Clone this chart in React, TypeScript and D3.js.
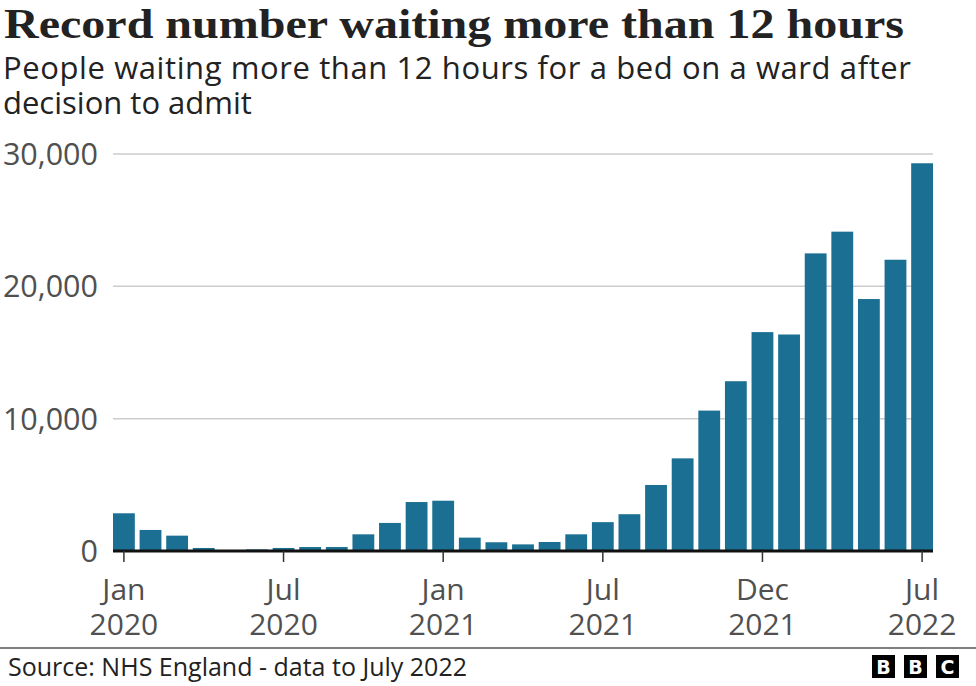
import React from 'react';
import * as d3 from 'd3';

const months = [
  '2020-01', '2020-02', '2020-03', '2020-04', '2020-05', '2020-06',
  '2020-07', '2020-08', '2020-09', '2020-10', '2020-11', '2020-12',
  '2021-01', '2021-02', '2021-03', '2021-04', '2021-05', '2021-06',
  '2021-07', '2021-08', '2021-09', '2021-10', '2021-11', '2021-12',
  '2022-01', '2022-02', '2022-03', '2022-04', '2022-05', '2022-06',
  '2022-07',
];

const waiting = [
  2850, 1590, 1160, 230, 60, 120,
  230, 300, 300, 1260, 2120, 3700,
  3800, 1010, 660, 500, 680, 1260,
  2180, 2780, 4990, 7000, 10610, 12830,
  16540, 16360, 22490, 24130, 19040, 22010,
  29300,
];

// tick positions as placed in the original graphic
const xTickMonths = ['2020-01', '2020-07', '2021-01', '2021-07', '2022-01', '2022-07'];
const xTickLabels = [['Jan', '2020'], ['Jul', '2020'], ['Jan', '2021'], ['Jul', '2021'], ['Dec', '2021'], ['Jul', '2022']];
const yTicks = [0, 10000, 20000, 30000];

const W = 976;
const H = 686;
const sans = "'Open Sans', 'Noto Sans', sans-serif";

const App: React.FC = () => {
  const ref = React.useRef<SVGSVGElement>(null);

  React.useEffect(() => {
    const svg = d3.select(ref.current);
    svg.selectAll('*').remove();

    const x = d3.scaleBand().domain(months).range([113, 933]).paddingInner(0.18).paddingOuter(0);
    const y = d3.scaleLinear().domain([0, 30000]).range([551, 154]);

    // titles
    svg.append('text')
      .attr('x', 4).attr('y', 38)
      .attr('font-family', "'Liberation Serif', serif")
      .attr('font-weight', 'bold')
      .attr('font-size', 42)
      .attr('textLength', 900)
      .attr('lengthAdjust', 'spacingAndGlyphs')
      .attr('fill', '#222')
      .text('Record number waiting more than 12 hours');

    const sub = ['People waiting more than 12 hours for a bed on a ward after', 'decision to admit'];
    sub.forEach((s, i) => {
      svg.append('text')
        .attr('x', 3).attr('y', 79 + i * 35)
        .attr('font-family', sans)
        .attr('font-size', 31)
        .attr('textLength', i === 0 ? 908 : null)
        .attr('fill', '#222')
        .text(s);
    });

    // grid
    const grid = svg.append('g');
    grid.selectAll('line')
      .data(yTicks.filter((t) => t > 0))
      .enter()
      .append('line')
      .attr('x1', 113).attr('x2', 933)
      .attr('y1', (d) => y(d)).attr('y2', (d) => y(d))
      .attr('stroke', '#cccccc')
      .attr('stroke-width', 1.5);

    grid.selectAll('text')
      .data(yTicks)
      .enter()
      .append('text')
      .attr('x', 98)
      .attr('y', (d) => y(d))
      .attr('dy', '0.36em')
      .attr('text-anchor', 'end')
      .attr('font-family', sans)
      .attr('font-size', 30.5)
      .attr('fill', '#505050')
      .text((d) => d3.format(',')(d));

    // bars
    svg.append('g')
      .selectAll('rect')
      .data(waiting)
      .enter()
      .append('rect')
      .attr('x', (_, i) => x(months[i])!)
      .attr('width', x.bandwidth())
      .attr('y', (d) => y(d))
      .attr('height', (d) => y(0) - y(d))
      .attr('fill', '#1a6f93');

    // baseline and ticks
    svg.append('line')
      .attr('x1', 113).attr('x2', 933)
      .attr('y1', y(0)).attr('y2', y(0))
      .attr('stroke', '#111')
      .attr('stroke-width', 3);

    const xt = svg.append('g');
    xTickMonths.forEach((m, i) => {
      const cx = x(m)! + x.bandwidth() / 2;
      xt.append('line')
        .attr('x1', cx).attr('x2', cx)
        .attr('y1', y(0)).attr('y2', y(0) + 11)
        .attr('stroke', '#333')
        .attr('stroke-width', 1.5);
      xTickLabels[i].forEach((l, j) => {
        xt.append('text')
          .attr('x', cx)
          .attr('y', 600 + j * 35)
          .attr('text-anchor', 'middle')
          .attr('font-family', sans)
          .attr('font-size', 30)
          .attr('fill', '#505050')
          .text(l);
      });
    });

    // footer
    svg.append('line')
      .attr('x1', 0).attr('x2', W)
      .attr('y1', 648).attr('y2', 648)
      .attr('stroke', '#555')
      .attr('stroke-width', 1.5);

    svg.append('text')
      .attr('x', 8).attr('y', 676)
      .attr('font-family', sans)
      .attr('font-size', 25)
      .attr('fill', '#222')
      .text('Source: NHS England - data to July 2022');

    const logo = svg.append('g');
    ['B', 'B', 'C'].forEach((l, i) => {
      const lx = 872 + i * 32;
      logo.append('rect')
        .attr('x', lx).attr('y', 655)
        .attr('width', 23).attr('height', 23)
        .attr('fill', '#000');
      logo.append('text')
        .attr('x', lx + 11.5).attr('y', 674)
        .attr('text-anchor', 'middle')
        .attr('font-family', "'DejaVu Sans', sans-serif")
        .attr('font-weight', 'bold')
        .attr('font-size', 19)
        .attr('fill', '#fff')
        .text(l);
    });
  }, []);

  return (
    <svg
      ref={ref}
      width={W}
      height={H}
      style={{ position: 'absolute', left: 0, top: 0, background: '#fff' }}
    />
  );
};

export default App;
